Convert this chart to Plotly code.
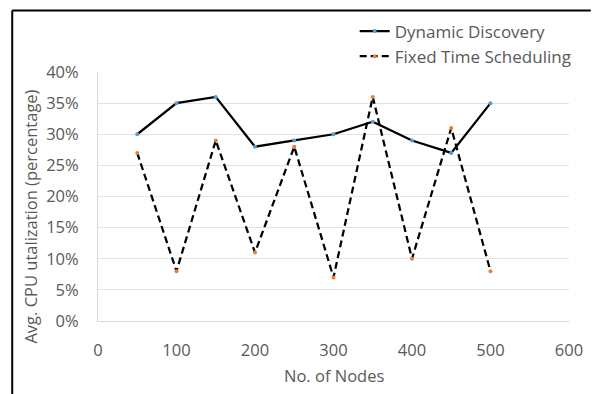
import plotly.graph_objects as go

nodes = [50, 100, 150, 200, 250, 300, 350, 400, 450, 500]
dynamic_discovery = [0.30, 0.35, 0.36, 0.28, 0.29, 0.30, 0.32, 0.29, 0.27, 0.35]
fixed_time = [0.27, 0.08, 0.29, 0.11, 0.28, 0.07, 0.36, 0.10, 0.31, 0.08]
x_ticks = [0, 100, 200, 300, 400, 500, 600]
y_ticks = [0, 0.05, 0.10, 0.15, 0.20, 0.25, 0.30, 0.35, 0.40]
y_labels = [f"{int(round(v*100))}%" for v in y_ticks]
x_title = "No. of Nodes"
y_title = "Avg. CPU utalization (percentage)"

FONT = "Open Sans"
GRAY = "#595959"

fig = go.Figure()
fig.add_trace(go.Scatter(
    x=nodes, y=dynamic_discovery, name="Dynamic Discovery", mode="lines+markers",
    line=dict(color="black", width=2.25),
    marker=dict(color="#5B9BD5", size=4, line=dict(width=0)),
))
fig.add_trace(go.Scatter(
    x=nodes, y=fixed_time, name="Fixed Time Scheduling", mode="lines+markers",
    line=dict(color="black", width=2.25, dash="7px,4px"),
    marker=dict(color="#ED7D31", size=4, line=dict(width=0)),
))

bx = (11.5 - 98) / 475
by = (321 - 10.5) / 249
bx_end = (595 - 98) / 475
by_end = (321 - 394) / 249

fig.update_layout(
    width=595, height=394,
    margin=dict(l=98, r=22, t=72, b=73),
    paper_bgcolor="white", plot_bgcolor="white",
    font=dict(family=FONT, color=GRAY, size=16),
    showlegend=True,
    legend=dict(x=0.545, y=1.235, xanchor="left", yanchor="top",
                font=dict(family=FONT, size=17, color=GRAY),
                bgcolor="rgba(0,0,0,0)", tracegroupgap=0, itemwidth=30),
    xaxis=dict(range=[0, 600], tickvals=x_ticks, showgrid=False, zeroline=False,
               showline=True, linecolor="#D9D9D9", linewidth=1,
               ticks="outside", ticklen=14, tickcolor="rgba(0,0,0,0)",
               tickfont=dict(size=16.5, color=GRAY)),
    yaxis=dict(range=[0, 0.40], tickvals=y_ticks, ticktext=y_labels,
               showgrid=True, gridcolor="#E3E3E3", gridwidth=1, zeroline=False,
               showline=True, linecolor="#D9D9D9", linewidth=1,
               ticks="outside", ticklen=15, tickcolor="rgba(0,0,0,0)",
               tickfont=dict(size=16.5, color=GRAY)),
    annotations=[
        dict(text=x_title, xref="paper", yref="paper", x=0.5, y=(321-375)/249,
             xanchor="center", yanchor="middle", showarrow=False,
             font=dict(family=FONT, size=16.5, color=GRAY)),
        dict(text=y_title, xref="paper", yref="paper", x=(29-98)/475, y=(321-217)/249,
             xanchor="center", yanchor="middle", showarrow=False, textangle=-90,
             font=dict(family=FONT, size=16.5, color=GRAY)),
    ],
    shapes=[
        dict(type="line", xref="paper", yref="paper", x0=bx, x1=bx_end, y0=by, y1=by,
             line=dict(color="black", width=2), layer="below"),
        dict(type="line", xref="paper", yref="paper", x0=bx, x1=bx, y0=by_end, y1=by,
             line=dict(color="black", width=2), layer="below"),
    ],
)

fig.write_html(
    "out.html",
    config={"displayModeBar": False},
    post_script="document.documentElement.style.overflow='hidden';document.body.style.overflow='hidden';document.body.style.margin='0';",
)
